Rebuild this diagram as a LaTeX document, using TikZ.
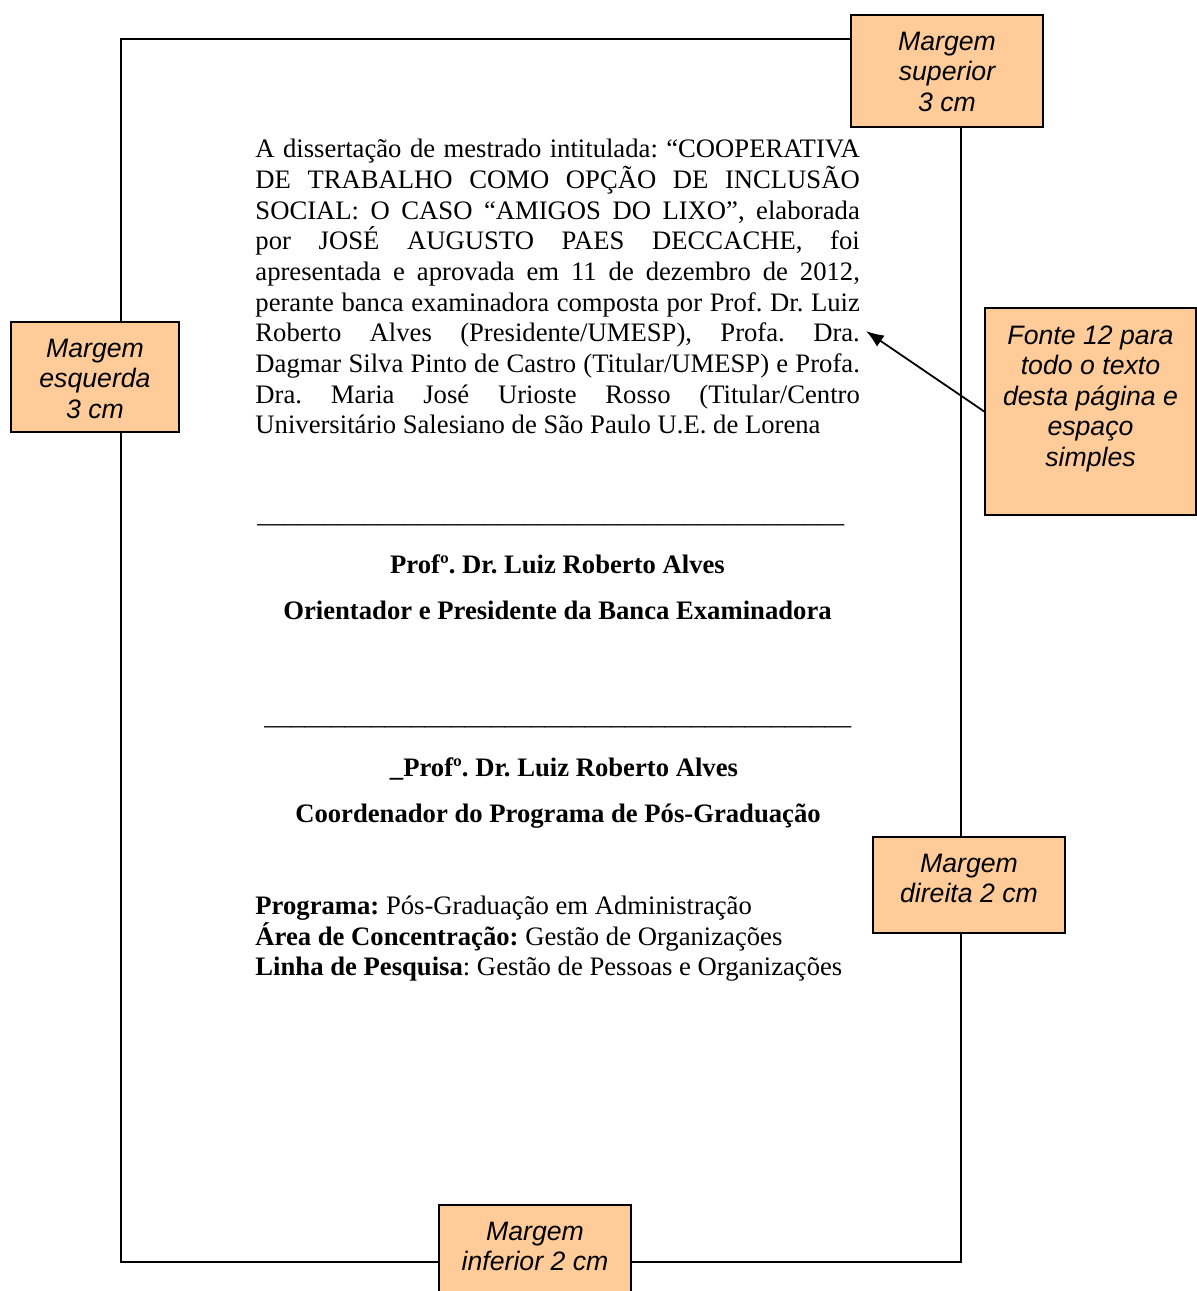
\documentclass[tikz,border=0pt]{standalone}
\usepackage{fontspec}
\setmainfont{Liberation Serif}
\newfontfamily\arial{Liberation Sans}
\usepackage{tikz}
\usetikzlibrary{positioning, fit, calc, arrows.meta}
\definecolor{pessego}{RGB}{255,204,153}
\newcommand{\traco}{\_\_\_\_\_\_\_\_\_\_\_\_\_\_\_\_\_\_\_\_\_\_\_\_\_\_\_\_\_\_\_\_\_\_\_\_\_\_\_\_\_\_\_\_}
\frenchspacing

\begin{document}
\begin{tikzpicture}[x=0.45pt, y=-0.45pt,
		margem/.style={draw=black, line width=0.7pt, fill=pessego, inner sep=0pt},
		nota/.style={font=\arial\itshape\fontsize{12pt}{13.75pt}\selectfont, align=center, inner sep=0pt, anchor=north},
		corpo/.style={font=\fontsize{12pt}{13.8pt}\selectfont, inner sep=0pt},
		negrito/.style={corpo, font=\fontsize{12pt}{13.8pt}\selectfont\bfseries, anchor=base}]
		\clip (0,0) rectangle (1197,1291);
		%% folha
		\draw[line width=0.7pt] (121,39) rectangle (961,1262);
		
		\node[corpo, anchor=north west, text width=272pt, align=justify] (texto) at (255,139) {A dissertação de mestrado intitulada: “COOPERATIVA\linebreak DE TRABALHO COMO OPÇÃO DE INCLUSÃO\linebreak SOCIAL: O CASO “AMIGOS DO LIXO”, elaborada\linebreak por JOSÉ AUGUSTO PAES DECCACHE, foi\linebreak apresentada e aprovada em 11 de dezembro de 2012,\linebreak perante banca examinadora composta por Prof. Dr. Luiz\linebreak Roberto Alves (Presidente/UMESP), Profa. Dra.\linebreak Dagmar Silva Pinto de Castro (Titular/UMESP) e Profa.\linebreak Dra. Maria José Urioste Rosso (Titular/Centro\linebreak Universitário Salesiano de São Paulo U.E. de Lorena};
		
		\node[corpo, anchor=base west] (linha1) at (257,522) {\traco};
		\node[negrito] (orient) at (557.5,573) {Profº. Dr. Luiz Roberto Alves};
		\node[negrito] (orientB) at (557.5,619) {Orientador e Presidente da Banca Examinadora};
		\node[corpo, anchor=base west] (linha2) at (264,724) {\traco};
		\node[negrito] (coord) at (564,776) {\_Profº. Dr. Luiz Roberto Alves};
		\node[negrito] (coordB) at (558,822) {Coordenador do Programa de Pós-Graduação};
		\node[corpo, anchor=base west] (prog) at (255,914) {\textbf{Programa:} Pós-Graduação em Administração};
		\node[corpo, anchor=base west] (area) at (255,945) {\textbf{Área de Concentração:} Gestão de Organizações};
		\node[corpo, anchor=base west] (linhaP) at (255,975) {\textbf{Linha de Pesquisa}: Gestão de Pessoas e Organizações};
		
		%% caixas das margens
		\node[margem, fit={(851,15) (1043,127)}] (sup) {};
		\node[nota] (supT) at ($(sup.north)+(0,17)$) {Margem\\superior\\3 cm};
		\node[margem, fit={(11,322) (179,432)}] (esq) {};
		\node[nota] (esqT) at ($(esq.north)+(0,17)$) {Margem\\esquerda\\3 cm};
		\node[margem, fit={(985,308) (1196,515)}] (fonte) {};
		\node[nota] (fonteT) at ($(fonte.north)+(0,18)$) {Fonte 12 para\\todo o texto\\desta página e\\espaço\\simples};
		\node[margem, fit={(873,837) (1065,933)}] (dir) {};
		\node[nota] (dirT) at ($(dir.north)+(0,17)$) {Margem\\direita 2 cm};
		\node[margem, fit={(439,1205) (631,1310)}] (inf) {};
		\node[nota] (infT) at ($(inf.north)+(0,17)$) {Margem\\inferior 2 cm};
		
		\coordinate (dra) at (866,331);
		\draw[-{Latex[length=8pt, width=6pt]}, line width=0.8pt] (fonte.west) -- (dra);
\end{tikzpicture}
\end{document}
